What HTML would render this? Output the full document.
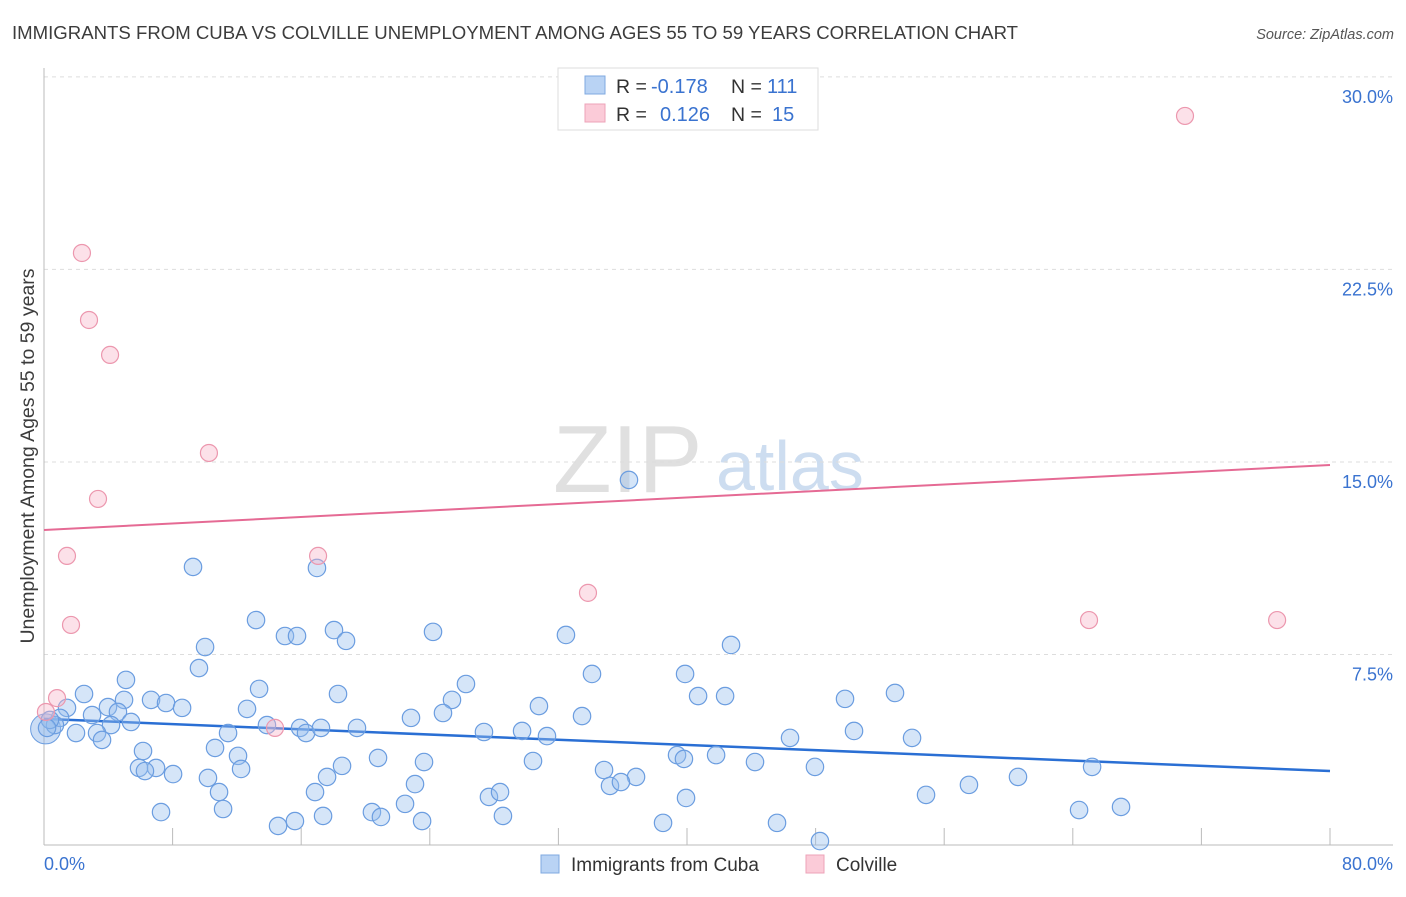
<!DOCTYPE html>
<html><head><meta charset="utf-8"><style>
body{margin:0;background:#fff;font-family:"Liberation Sans",sans-serif;}
svg text{font-family:"Liberation Sans",sans-serif;}
</style></head><body>
<svg id="chart" width="1406" height="892" viewBox="0 0 1406 892">
<text x="12" y="39" font-size="18.6" fill="#3c3c3c">IMMIGRANTS FROM CUBA VS COLVILLE UNEMPLOYMENT AMONG AGES 55 TO 59 YEARS CORRELATION CHART</text>
<text x="1394" y="39" font-size="14.5" font-style="italic" fill="#555" text-anchor="end">Source: ZipAtlas.com</text>
<text transform="translate(34,456) rotate(-90)" font-size="19.5" fill="#3c3c3c" text-anchor="middle">Unemployment Among Ages 55 to 59 years</text>
<g>
<text x="553" y="492" font-size="96" font-family="Liberation Serif,serif" fill="#d9d9d9" opacity="0.8">ZIP</text>
<text x="716" y="490" font-size="70" fill="#b9cfea" opacity="0.7">atlas</text>
</g>
<g id="grid"></g><g id="axes"></g><g id="trends"></g><g id="pts"></g>
<g>
<rect x="558" y="68" width="260" height="62" fill="#fff" stroke="#ddd"/>
<rect x="585" y="76" width="20" height="18" fill="#b9d3f4" stroke="#7fa9e0"/>
<rect x="585" y="104" width="20" height="18" fill="#fbcbd8" stroke="#eea3b8"/>
<text x="616" y="93" font-size="19.5" fill="#333">R =</text>
<text x="651" y="93" font-size="20" fill="#3a73d0">-0.178</text>
<text x="731" y="93" font-size="19.5" fill="#333">N =</text>
<text x="767" y="93" font-size="20" fill="#3a73d0">111</text>
<text x="616" y="121" font-size="19.5" fill="#333">R =</text>
<text x="660" y="121" font-size="20" fill="#3a73d0">0.126</text>
<text x="731" y="121" font-size="19.5" fill="#333">N =</text>
<text x="772" y="121" font-size="20" fill="#3a73d0">15</text>
</g>
<g>
<rect x="541" y="855" width="18" height="18" fill="#b9d3f4" stroke="#7fa9e0"/>
<text x="571" y="871" font-size="19" fill="#333">Immigrants from Cuba</text>
<rect x="806" y="855" width="18" height="18" fill="#fbcbd8" stroke="#eea3b8"/>
<text x="836" y="871" font-size="19" fill="#333">Colville</text>
</g>
</svg>
<script>
const yTicks=[7.5,15,22.5,30];
const yTickLabels=["7.5%","15.0%","22.5%","30.0%"];
const xTickLabels=["0.0%","80.0%"];
const blueX=[9.27,16.98,36.39,13.19,14.99,15.74,18.04,18.79,24.20,32.47,42.74,10.02,9.64,5.10,26.25,34.09,39.88,13.38,2.49,6.66,7.59,8.59,4.98,3.98,4.60,12.63,18.29,25.38,24.82,30.79,33.47,40.69,42.37,49.83,52.94,22.83,5.41,4.17,2.99,1.43,1.00,0.68,0.37,0.19,1.99,3.30,3.61,13.87,15.93,16.30,17.23,19.47,11.45,27.37,29.74,31.29,50.39,54.00,46.41,6.16,10.64,12.07,20.78,30.42,39.38,39.81,41.81,44.23,5.91,6.97,8.03,6.28,10.20,12.26,17.61,18.54,23.64,34.84,36.83,47.96,65.20,10.89,16.86,23.08,27.68,28.37,35.21,35.89,39.94,54.87,57.54,60.59,7.28,11.14,20.40,22.46,20.96,17.36,28.55,23.52,15.61,14.56,38.51,45.60,48.27,64.39,67.00];
const blueY=[10.91,10.87,14.30,8.84,8.22,8.22,8.45,8.03,8.38,8.26,7.87,7.79,6.97,6.51,6.35,6.74,6.74,6.16,5.96,5.73,5.61,5.42,5.73,5.45,5.26,5.38,5.96,5.73,5.22,5.49,5.10,5.88,5.88,5.77,6.00,5.03,4.87,4.75,5.14,5.42,5.03,4.75,4.95,4.64,4.44,4.44,4.17,4.75,4.64,4.44,4.64,4.64,4.44,4.48,4.52,4.32,4.52,4.25,4.25,3.74,3.86,3.55,3.47,3.35,3.58,3.43,3.58,3.31,3.08,3.08,2.84,2.96,2.69,3.04,2.73,3.16,3.31,3.00,2.73,3.12,3.12,2.14,2.14,2.45,1.95,2.14,2.38,2.53,1.91,2.03,2.42,2.73,1.36,1.48,1.36,1.68,1.17,1.21,1.21,1.01,1.01,0.82,0.94,0.94,0.23,1.44,1.56];
const pinkX=[0.12,0.81,1.43,1.68,2.36,2.80,4.11,3.36,10.26,17.05,14.37,33.84,65.01,76.71,70.98];
const pinkY=[5.26,5.80,11.34,8.65,23.14,20.53,19.17,13.56,15.35,11.34,4.64,9.90,8.84,8.84,28.48];
const blueTrend=[4.99,2.96];
const pinkTrend=[12.35,14.88];

const NS="http://www.w3.org/2000/svg";
const X0=44,X1=1330,Y0=847,PPU=25.67;
function xs(v){return X0+(v/80)*(X1-X0);}
function ys(v){return Y0-v*PPU;}
function mk(tag,attrs,parent){const e=document.createElementNS(NS,tag);for(const k in attrs)e.setAttribute(k,attrs[k]);parent.appendChild(e);return e;}
const grid=document.getElementById('grid'),axes=document.getElementById('axes'),trends=document.getElementById('trends'),pts=document.getElementById('pts');
yTicks.forEach((t,i)=>{
  const l=mk('line',{x1:X0,x2:1393,y1:ys(t),y2:ys(t),stroke:'#ddd','stroke-dasharray':'4,4'},grid);
  
  
  const tx=mk('text',{x:1393,y:ys(t)+26,'font-size':18,fill:'#3a73d0','text-anchor':'end'},grid);
  tx.textContent=yTickLabels[i];
  
  
});
const la=mk('line',{x1:X0,x2:X0,y1:68,y2:845,stroke:'#bbb'},axes);


const ba=mk('line',{x1:X0,x2:1393,y1:845,y2:845,stroke:'#bbb'},axes);


for(let v=8;v<=80;v+=8){
  const tk=mk('line',{x1:xs(v),x2:xs(v),y1:828,y2:845,stroke:'#bbb'},axes);
  
  
}
const xl0=mk('text',{x:44,y:870,'font-size':18,fill:'#3a73d0'},axes);xl0.textContent=xTickLabels[0];


const xl1=mk('text',{x:1393,y:870,'font-size':18,fill:'#3a73d0','text-anchor':'end'},axes);xl1.textContent=xTickLabels[1];


const big=mk('circle',{cx:xs(0.1),cy:ys(4.6),r:15,fill:'rgba(140,180,232,0.45)',stroke:'#6b9de0'},pts);


blueX.forEach((x,i)=>{
  const c=mk('circle',{cx:xs(x),cy:ys(blueY[i]),r:8.7,fill:'rgba(150,190,238,0.4)',stroke:'#6b9de0','stroke-width':1.2},pts);
  
  
});
pinkX.forEach((x,i)=>{
  const c=mk('circle',{cx:xs(x),cy:ys(pinkY[i]),r:8.5,fill:'rgba(248,180,200,0.4)',stroke:'#ec97ae','stroke-width':1.2},pts);
  
  
});
const bt=mk('line',{x1:xs(0),x2:xs(80),y1:ys(blueTrend[0]),y2:ys(blueTrend[1]),stroke:'#2a6fd4','stroke-width':2.5},trends);


const pt=mk('line',{x1:xs(0),x2:xs(80),y1:ys(pinkTrend[0]),y2:ys(pinkTrend[1]),stroke:'#e56a94','stroke-width':2},trends);


</script>
</body></html>
